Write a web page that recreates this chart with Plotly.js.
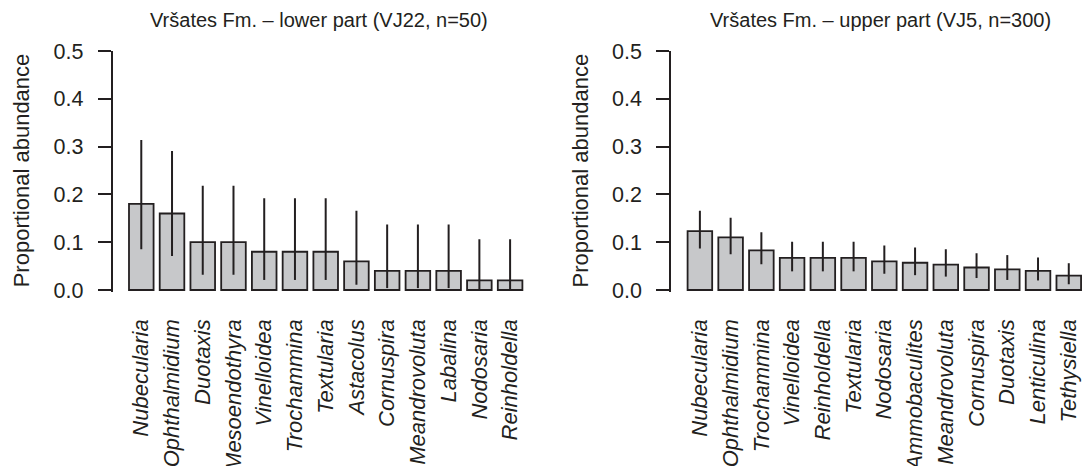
<!DOCTYPE html>
<html>
<head>
<meta charset="utf-8">
<script src="https://cdn.plot.ly/plotly-3.0.1.min.js"></script>
<style>html,body{margin:0;padding:0;background:#fff;}#chart{width:1085px;height:466px;}</style>
</head>
<body>
<div id="chart"></div>
<script>
// Panel titles
const title1 = 'Vršates Fm. – lower part (VJ22, n=50)';
const title2 = 'Vršates Fm. – upper part (VJ5, n=300)';
const yTitle = 'Proportional abundance';

// Lower part (VJ22)
const genera1 = ['Nubecularia','Ophthalmidium','Duotaxis','Mesoendothyra','Vinelloidea','Trochammina','Textularia','Astacolus','Cornuspira','Meandrovoluta','Labalina','Nodosaria','Reinholdella'];
const prop1 = [0.18,0.16,0.10,0.10,0.08,0.08,0.08,0.06,0.04,0.04,0.04,0.02,0.02];
const lo1 = [0.085,0.071,0.032,0.032,0.021,0.021,0.021,0.011,0.004,0.004,0.004,0.001,0.001];
const hi1 = [0.314,0.291,0.218,0.218,0.192,0.192,0.192,0.166,0.137,0.137,0.137,0.106,0.106];

// Upper part (VJ5)
const genera2 = ['Nubecularia','Ophthalmidium','Trochammina','Vinelloidea','Reinholdella','Textularia','Nodosaria','Ammobaculites','Meandrovoluta','Cornuspira','Duotaxis','Lenticulina','Tethysiella'];
const prop2 = [0.123,0.110,0.083,0.067,0.067,0.067,0.060,0.057,0.053,0.047,0.043,0.040,0.030];
const lo2 = [0.087,0.075,0.054,0.039,0.039,0.039,0.034,0.031,0.028,0.025,0.021,0.020,0.012];
const hi2 = [0.166,0.151,0.121,0.101,0.101,0.101,0.093,0.089,0.085,0.077,0.073,0.068,0.056];

const ink = '#231f20';
const fill = '#c7c8ca';
const FONT = 'Liberation Sans, Arial, Helvetica, sans-serif';
const W = 1085, H = 466;

function barTrace(x, y, lo, hi, xa, ya) {
  return {
    type: 'bar', x: x, y: y, xaxis: xa, yaxis: ya,
    marker: {color: fill, line: {color: ink, width: 1.8}},
    error_y: {
      type: 'data', symmetric: false,
      array: y.map((v, i) => hi[i] - v),
      arrayminus: y.map((v, i) => v - lo[i]),
      color: ink, thickness: 2, width: 0
    },
    hoverinfo: 'x+y'
  };
}

const yBottom = (H - 291.9) / H, yTop = (H - 51) / H;

function yAxis(anchor, domainX) {
  return {
    anchor: anchor, domain: [yBottom, yTop], range: [-0.004, 0.5],
    tickvals: [0, 0.1, 0.2, 0.3, 0.4, 0.5], tickformat: '.1f',
    showline: true, linecolor: ink, linewidth: 2,
    ticks: 'outside', ticklen: 13, tickwidth: 2, tickcolor: ink,
    ticklabelstandoff: 10,
    tickfont: {family: FONT, size: 21.5, color: ink},
    showgrid: false, zeroline: false, automargin: false, fixedrange: true
  };
}

function xAxis(anchor, dom, range) {
  return {
    anchor: anchor, domain: dom, range: range, type: 'category',
    showline: false, ticks: '', showgrid: false, zeroline: false,
    tickangle: -90, ticklabelstandoff: 22,
    tickfont: {family: FONT, size: 22, color: ink, style: 'italic'},
    automargin: false, fixedrange: true
  };
}

const data = [
  barTrace(genera1, prop1, lo1, hi1, 'x', 'y'),
  barTrace(genera2, prop2, lo2, hi2, 'x2', 'y2')
];

const layout = {
  width: W, height: H,
  margin: {l: 0, r: 0, t: 0, b: 0},
  paper_bgcolor: '#ffffff', plot_bgcolor: 'rgba(0,0,0,0)',
  showlegend: false, bargap: 0.2,
  xaxis: xAxis('y', [112.7 / W, 539.3 / W], [-0.93, 12.95]),
  yaxis: yAxis('x'),
  xaxis2: xAxis('y2', [671.3 / W, 1], [-0.93, 12.528]),
  yaxis2: yAxis('x2'),
  annotations: [
    {text: title1, xref: 'paper', yref: 'paper', x: 319 / W, y: (H - 20.5) / H, xanchor: 'center', yanchor: 'middle', showarrow: false, font: {family: FONT, size: 20, color: ink}},
    {text: title2, xref: 'paper', yref: 'paper', x: 880 / W, y: (H - 20.5) / H, xanchor: 'center', yanchor: 'middle', showarrow: false, font: {family: FONT, size: 20, color: ink}},
    {text: yTitle, xref: 'paper', yref: 'paper', x: 21.3 / W, y: (H - 170) / H, xanchor: 'center', yanchor: 'middle', textangle: -90, showarrow: false, font: {family: FONT, size: 22, color: ink}},
    {text: yTitle, xref: 'paper', yref: 'paper', x: 579.5 / W, y: (H - 171) / H, xanchor: 'center', yanchor: 'middle', textangle: -90, showarrow: false, font: {family: FONT, size: 22, color: ink}}
  ]
};

Plotly.newPlot('chart', data, layout, {displayModeBar: false, staticPlot: true});
</script>
</body>
</html>
